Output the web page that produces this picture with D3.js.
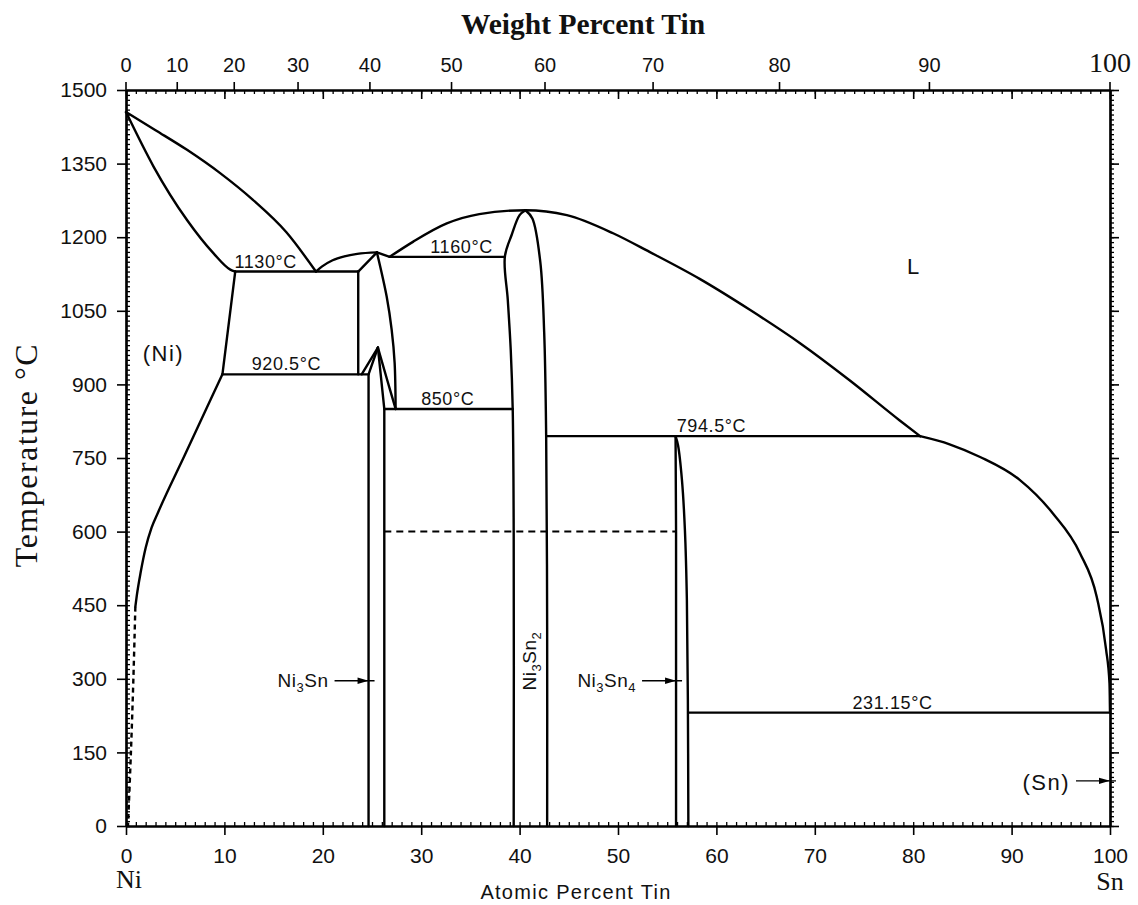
<!DOCTYPE html>
<html><head><meta charset="utf-8">
<script src="https://cdn.jsdelivr.net/npm/d3@7"></script>
<style>
body{margin:0;background:#fff;}
svg{display:block;}
</style></head><body>
<svg id="chart" width="1138" height="905"></svg>
<script>
// ---------------- DATA (atomic % Sn, temperature °C) ----------------
const atTicks = [0,10,20,30,40,50,60,70,80,90,100];
const wtTicks = [0,10,20,30,40,50,60,70,80,90,100];
const tempTicks = [0,150,300,450,600,750,900,1050,1200,1350,1500];

const niLiquidus = [[0,1455],[3.0,1418],[6.2,1378],[9.6,1330],[12.9,1276],[16.3,1210],[19.3,1130]];
const niSolidus = [[0,1455],[2.8,1344],[6.2,1235],[8.9,1167],[10.6,1134],[11.1,1130]];
const niSolvusHigh = [[11.1,1130],[9.8,920.5]];
const niSolvus = [[0.95,447],[1.1,470],[1.5,518],[2.0,567],[2.6,608],[3.3,641],[6.0,757],[8.6,869],[9.8,920.5]];
const niSolvusDashed = [[0.95,447],[0.75,300],[0.5,150],[0.2,0]];

const htLiquidusLeft = [[19.3,1130],[19.9,1140],[21.0,1153],[22.2,1161],[23.5,1166],[25.5,1169]];
const htLiquidusRight = [[25.5,1169],[26.8,1160]];
const htSolidusLeft = [[23.6,1130],[25.5,1169]];
const htLeftBoundary = [[23.6,1130],[23.6,920.5]];
const htRightBoundary = [[25.5,1169],[26.5,1078],[27.0,1011],[27.3,944],[27.4,850]];
const htLensLeft = [[25.6,975],[23.95,920.5]];
const htLensRight = [[25.6,975],[26.5,912],[27.4,850]];
const ltLeft = [[25.6,975],[24.65,920.5],[24.65,0]];
const ltRight = [[25.6,975],[26.25,850],[26.25,0]];

const ni3sn2Liquidus = [[26.8,1160],[29.2,1191],[32.6,1228],[35.9,1247],[40.6,1255],[44.8,1245],[49.5,1208],[53.2,1170],[58.3,1115],[63.4,1052],[68.5,984],[73.5,909],[78.6,827],[80.7,794.5]];
const ni3sn2Left = [[40.6,1255],[40.0,1245],[39.2,1205],[38.5,1160],[38.8,1072],[39.1,970],[39.3,850],[39.4,600],[39.4,0]];
const ni3sn2Right = [[40.6,1255],[41.3,1238],[42.1,1150],[42.5,1005],[42.7,794.5],[42.8,400],[42.8,0]];

const ni3sn4Left = [[55.85,794.5],[55.9,600],[55.9,0]];
const ni3sn4Right = [[55.85,794.5],[56.1,776],[56.5,705],[56.8,603],[57.0,460],[57.1,257],[57.15,0]];

const snLiquidus = [[80.7,794.5],[83.7,778],[86.8,752],[90.85,705],[94.2,637],[96.95,556],[98.65,467],[99.6,360],[99.95,290],[100,231.15]];

const isoTemps = [1130, 920.5, 1160, 850, 794.5, 231.15];
const isoFrom  = [11.1, 9.8, 26.8, 26.25, 42.7, 57.15];
const isoTo    = [23.6, 24.65, 38.5, 39.3, 80.7, 100];
const isoLabels = ["1130°C","920.5°C","1160°C","850°C","794.5°C","231.15°C"];
const isoLabelAt = [14.2, 16.3, 34.1, 32.7, 59.5, 77.9];

const dashedTemp = 600, dashedFrom = 26.25, dashedTo = 55.9;

const regionNames = ["L","(Ni)"];
const regionAt = [80.0, 3.8];
const regionT = [1125, 947];

const arrowPhases = [
  {base:"Ni", n1:"3", mid:"Sn", n2:""},
  {base:"Ni", n1:"3", mid:"Sn", n2:"4"},
  {base:"(Sn)", n1:"", mid:"", n2:""}
];
const arrowAt = [24.65, 55.9, 100];
const arrowT = [296, 296, 92];

// ---------------- CHART ----------------
const svg = d3.select("#chart");
const W = 1138, H = 905;
svg.append("rect").attr("width",W).attr("height",H).attr("fill","#fff");

const x = d3.scaleLinear().domain([0,100]).range([126,1110]);
const y = d3.scaleLinear().domain([0,1500]).range([826,90]);
const wtToAt = w => {
  if (w >= 100) return 100;
  const a = w/118.71, b = (100-w)/58.69;
  return 100*a/(a+b);
};

const SANS = "'Liberation Sans', Arial, Helvetica, sans-serif";
const SERIF = "'Liberation Serif', 'Times New Roman', Times, serif";

function styleAxis(g, sw){
  g.select(".domain").attr("stroke","#000").attr("stroke-width",sw);
  g.selectAll(".tick line").attr("stroke","#000").attr("stroke-width",1.6);
}

// bottom axis
const gB = svg.append("g").attr("transform",`translate(0,${y(0)})`)
  .call(d3.axisBottom(x).tickValues(atTicks).tickSize(9).tickSizeOuter(0).tickPadding(13).tickFormat(d=>d));
styleAxis(gB,2.2);
gB.selectAll("text").attr("font-family",SANS).attr("font-size",21).attr("fill","#111");
const gBm = svg.append("g").attr("transform",`translate(0,${y(0)})`)
  .call(d3.axisTop(x).tickValues(d3.range(0,101,1)).tickSize(4).tickSizeOuter(0).tickFormat(""));
styleAxis(gBm,2.2); gBm.selectAll(".tick line").attr("stroke-width",1.3);

// top axis
const gT = svg.append("g").attr("transform",`translate(0,${y(1500)})`)
  .call(d3.axisBottom(x).tickValues(atTicks).tickSize(9).tickSizeOuter(0).tickFormat(""));
styleAxis(gT,2.2);
const gTm = svg.append("g").attr("transform",`translate(0,${y(1500)})`)
  .call(d3.axisBottom(x).tickValues(d3.range(0,101,1)).tickSize(4).tickSizeOuter(0).tickFormat(""));
styleAxis(gTm,2.2); gTm.selectAll(".tick line").attr("stroke-width",1.3);
const wtG = svg.append("g");
wtG.selectAll("line").data(wtTicks).join("line")
  .attr("x1",d=>x(wtToAt(d))).attr("x2",d=>x(wtToAt(d)))
  .attr("y1",y(1500)).attr("y2",y(1500)-8).attr("stroke","#000").attr("stroke-width",1.6);
wtG.selectAll("text").data(wtTicks).join("text")
  .attr("x",d=>x(wtToAt(d))).attr("y",y(1500)-18)
  .attr("text-anchor","middle")
  .attr("font-family",d=>d===100?SERIF:SANS)
  .attr("font-size",d=>d===100?28:20)
  .attr("fill","#111")
  .text(d=>d);

// left axis
const gL = svg.append("g").attr("transform",`translate(${x(0)},0)`)
  .call(d3.axisLeft(y).tickValues(tempTicks).tickSize(9).tickSizeOuter(0).tickPadding(10).tickFormat(d=>d));
styleAxis(gL,2.2);
gL.selectAll("text").attr("font-family",SANS).attr("font-size",21).attr("fill","#111");
const gLm = svg.append("g").attr("transform",`translate(${x(0)},0)`)
  .call(d3.axisRight(y).tickValues(d3.range(0,1501,10)).tickSize(4).tickSizeOuter(0).tickFormat(""));
styleAxis(gLm,2.2); gLm.selectAll(".tick line").attr("stroke-width",1.3);

// right axis
const gR = svg.append("g").attr("transform",`translate(${x(100)},0)`)
  .call(d3.axisRight(y).tickValues(tempTicks).tickSize(9).tickSizeOuter(0).tickFormat(""));
styleAxis(gR,2.2);
const gRm = svg.append("g").attr("transform",`translate(${x(100)},0)`)
  .call(d3.axisRight(y).tickValues(d3.range(0,1501,10)).tickSize(4).tickSizeOuter(0).tickFormat(""));
styleAxis(gRm,2.2); gRm.selectAll(".tick line").attr("stroke-width",1.3);

// axis titles
svg.append("text").attr("x",583).attr("y",34).attr("text-anchor","middle")
  .attr("font-family",SERIF).attr("font-weight","bold").attr("font-size",29.5).attr("fill","#111")
  .text("Weight Percent Tin");
svg.append("text").attr("x",576).attr("y",899).attr("text-anchor","middle")
  .attr("font-family",SANS).attr("font-size",20).attr("letter-spacing",1.3).attr("fill","#111")
  .text("Atomic Percent Tin");
svg.append("text").attr("transform","translate(37,455) rotate(-90)").attr("text-anchor","middle")
  .attr("font-family",SERIF).attr("font-size",32).attr("letter-spacing",1.5).attr("fill","#111")
  .text("Temperature °C");
svg.append("text").attr("x",x(0)+3).attr("y",888).attr("text-anchor","middle")
  .attr("font-family",SERIF).attr("font-size",26).attr("fill","#111").text("Ni");
svg.append("text").attr("x",x(100)).attr("y",890).attr("text-anchor","middle")
  .attr("font-family",SERIF).attr("font-size",26).attr("fill","#111").text("Sn");

// phase boundaries
const plot = svg.append("g").attr("fill","none").attr("stroke","#000")
  .attr("stroke-width",2.4).attr("stroke-linejoin","round").attr("stroke-linecap","round");
const curved = d3.line().x(d=>x(d[0])).y(d=>y(d[1])).curve(d3.curveCatmullRom.alpha(0.5));
const smoothX = d3.line().x(d=>x(d[0])).y(d=>y(d[1])).curve(d3.curveMonotoneX);
const straight = d3.line().x(d=>x(d[0])).y(d=>y(d[1]));

[niLiquidus, niSolidus, niSolvus, htLiquidusLeft, ni3sn2Liquidus, snLiquidus]
 .forEach(c => plot.append("path").attr("d", smoothX(c)));
[htRightBoundary, htLensRight, ni3sn2Left, ni3sn2Right, ni3sn4Right]
 .forEach(c => plot.append("path").attr("d", curved(c)));
[niSolvusHigh, htLiquidusRight, htSolidusLeft, htLeftBoundary, htLensLeft, ltLeft, ltRight, ni3sn4Left]
 .forEach(c => plot.append("path").attr("d", straight(c)));
plot.append("path").attr("d", curved(niSolvusDashed)).attr("stroke-dasharray","5,4").attr("stroke-linecap","butt");

// isotherms
plot.selectAll("line.iso").data(isoTemps).join("line").attr("class","iso")
  .attr("x1",(d,i)=>x(isoFrom[i])).attr("x2",(d,i)=>x(isoTo[i]))
  .attr("y1",d=>y(d)).attr("y2",d=>y(d));
plot.append("line").attr("x1",x(dashedFrom)).attr("x2",x(dashedTo))
  .attr("y1",y(dashedTemp)).attr("y2",y(dashedTemp))
  .attr("stroke-width",2).attr("stroke-dasharray","7,5").attr("stroke-linecap","butt");

svg.append("g").selectAll("text").data(isoLabels).join("text")
  .attr("x",(d,i)=>x(isoLabelAt[i])).attr("y",(d,i)=>y(isoTemps[i])-4)
  .attr("text-anchor","middle").attr("font-family",SANS).attr("font-size",18)
  .attr("letter-spacing",0.6).attr("fill","#111").text(d=>d);

// region labels
svg.append("g").selectAll("text").data(regionNames).join("text")
  .attr("x",(d,i)=>x(regionAt[i])).attr("y",(d,i)=>y(regionT[i]))
  .attr("text-anchor","middle").attr("font-family",SANS)
  .attr("font-size",22).attr("letter-spacing",(d,i)=>i===0?0:1.5)
  .attr("fill","#111").text(d=>d);

// Ni3Sn2 vertical label
const vt = svg.append("text").attr("transform",`translate(${x(41.15)+5},${y(336)}) rotate(-90)`)
  .attr("text-anchor","middle").attr("font-family",SANS).attr("font-size",19)
  .attr("letter-spacing",0.5).attr("fill","#111");
vt.append("tspan").text("Ni");
vt.append("tspan").attr("dy",5).attr("font-size",13).text("3");
vt.append("tspan").attr("dy",-5).text("Sn");
vt.append("tspan").attr("dy",5).attr("font-size",13).text("2");

// arrow labels
arrowPhases.forEach((p,i)=>{
  const tx = x(arrowAt[i]), ty = y(arrowT[i]);
  const g = svg.append("g");
  g.append("line").attr("x1",tx-34).attr("x2",tx+6).attr("y1",ty).attr("y2",ty)
    .attr("stroke","#000").attr("stroke-width",1.4);
  g.append("path").attr("d",`M${tx},${ty} L${tx-11},${ty-3.2} L${tx-11},${ty+3.2} Z`).attr("fill","#000");
  const t = g.append("text").attr("x",tx-40).attr("y",ty+(i===2?9:6)).attr("text-anchor","end")
    .attr("font-family",SANS).attr("font-size",i===2?22:19).attr("letter-spacing",i===2?1.5:0.5)
    .attr("fill","#111");
  t.append("tspan").text(p.base);
  if (p.n1) t.append("tspan").attr("dy",5).attr("font-size",13).text(p.n1);
  if (p.mid) t.append("tspan").attr("dy",-5).text(p.mid);
  if (p.n2) t.append("tspan").attr("dy",5).attr("font-size",13).text(p.n2);
});
</script>
</body></html>
